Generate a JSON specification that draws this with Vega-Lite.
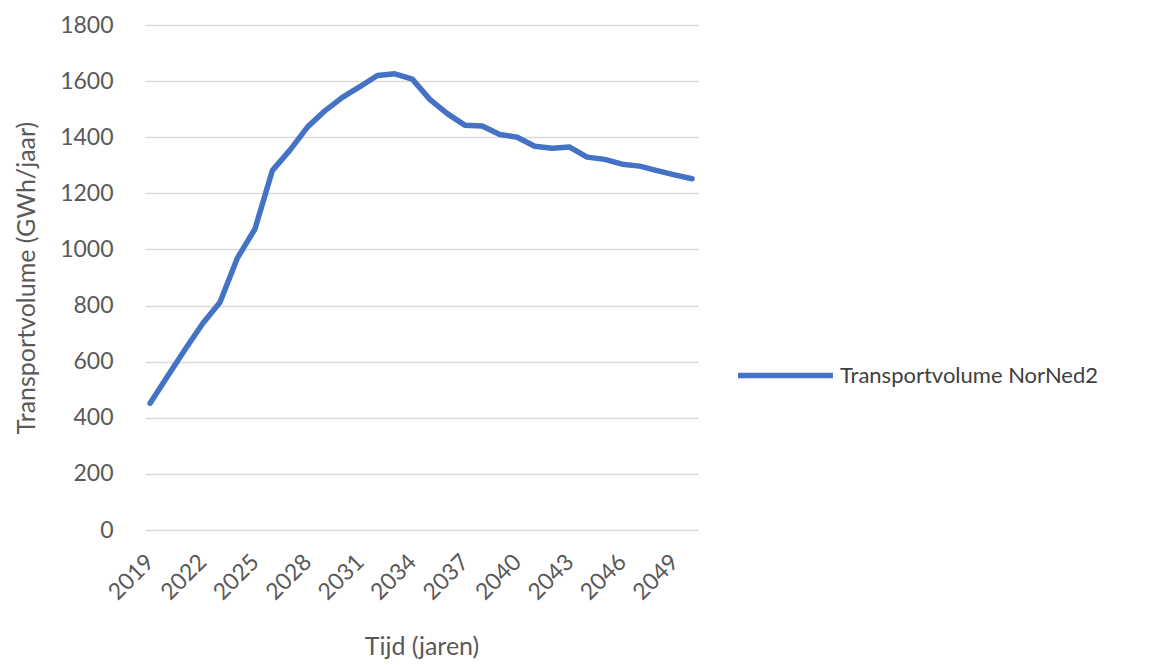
{
  "$schema": "https://vega.github.io/schema/vega-lite/v6.json",
  "width": 553,
  "height": 505,
  "autosize": "none",
  "padding": {"left": 145, "top": 25, "right": 468, "bottom": 135},
  "background": "white",
  "config": {
    "font": "Lato",
    "view": {"stroke": null}
  },
  "data": {
    "values": [
      {"jaar": 2019, "volume": 452, "serie": "Transportvolume NorNed2"},
      {"jaar": 2020, "volume": 548, "serie": "Transportvolume NorNed2"},
      {"jaar": 2021, "volume": 643, "serie": "Transportvolume NorNed2"},
      {"jaar": 2022, "volume": 735, "serie": "Transportvolume NorNed2"},
      {"jaar": 2023, "volume": 812, "serie": "Transportvolume NorNed2"},
      {"jaar": 2024, "volume": 970, "serie": "Transportvolume NorNed2"},
      {"jaar": 2025, "volume": 1073, "serie": "Transportvolume NorNed2"},
      {"jaar": 2026, "volume": 1282, "serie": "Transportvolume NorNed2"},
      {"jaar": 2027, "volume": 1354, "serie": "Transportvolume NorNed2"},
      {"jaar": 2028, "volume": 1436, "serie": "Transportvolume NorNed2"},
      {"jaar": 2029, "volume": 1494, "serie": "Transportvolume NorNed2"},
      {"jaar": 2030, "volume": 1542, "serie": "Transportvolume NorNed2"},
      {"jaar": 2031, "volume": 1580, "serie": "Transportvolume NorNed2"},
      {"jaar": 2032, "volume": 1620, "serie": "Transportvolume NorNed2"},
      {"jaar": 2033, "volume": 1626, "serie": "Transportvolume NorNed2"},
      {"jaar": 2034, "volume": 1607, "serie": "Transportvolume NorNed2"},
      {"jaar": 2035, "volume": 1535, "serie": "Transportvolume NorNed2"},
      {"jaar": 2036, "volume": 1484, "serie": "Transportvolume NorNed2"},
      {"jaar": 2037, "volume": 1443, "serie": "Transportvolume NorNed2"},
      {"jaar": 2038, "volume": 1440, "serie": "Transportvolume NorNed2"},
      {"jaar": 2039, "volume": 1410, "serie": "Transportvolume NorNed2"},
      {"jaar": 2040, "volume": 1400, "serie": "Transportvolume NorNed2"},
      {"jaar": 2041, "volume": 1368, "serie": "Transportvolume NorNed2"},
      {"jaar": 2042, "volume": 1361, "serie": "Transportvolume NorNed2"},
      {"jaar": 2043, "volume": 1365, "serie": "Transportvolume NorNed2"},
      {"jaar": 2044, "volume": 1329, "serie": "Transportvolume NorNed2"},
      {"jaar": 2045, "volume": 1321, "serie": "Transportvolume NorNed2"},
      {"jaar": 2046, "volume": 1304, "serie": "Transportvolume NorNed2"},
      {"jaar": 2047, "volume": 1297, "serie": "Transportvolume NorNed2"},
      {"jaar": 2048, "volume": 1281, "serie": "Transportvolume NorNed2"},
      {"jaar": 2049, "volume": 1266, "serie": "Transportvolume NorNed2"},
      {"jaar": 2050, "volume": 1252, "serie": "Transportvolume NorNed2"}
    ]
  },
  "mark": {"type": "line", "strokeWidth": 5.5, "strokeJoin": "round", "strokeCap": "round"},
  "encoding": {
    "x": {
      "field": "jaar",
      "type": "quantitative",
      "scale": {"domain": [2018.71, 2050.34], "nice": false, "zero": false},
      "axis": {
        "title": "Tijd (jaren)",
        "values": [2019, 2022, 2025, 2028, 2031, 2034, 2037, 2040, 2043, 2046, 2049],
        "format": "d",
        "labelAngle": -45,
        "labelAlign": "right",
        "labelBaseline": "middle",
        "labelFontSize": 23,
        "labelColor": "#595959",
        "labelPadding": 28,
        "labelFlush": false,
        "labelOverlap": false,
        "ticks": false,
        "grid": false,
        "domain": false,
        "titleFontSize": 25,
        "titleFontWeight": "normal",
        "titleColor": "#595959",
        "titlePadding": 30
      }
    },
    "y": {
      "field": "volume",
      "type": "quantitative",
      "scale": {"domain": [0, 1800], "nice": false},
      "axis": {
        "title": "Transportvolume (GWh/jaar)",
        "values": [0, 200, 400, 600, 800, 1000, 1200, 1400, 1600, 1800],
        "format": "d",
        "labelFontSize": 23,
        "labelColor": "#595959",
        "labelPadding": 32,
        "ticks": false,
        "domain": false,
        "grid": true,
        "gridColor": "#d9d9d9",
        "gridWidth": 1.5,
        "titleFontSize": 25,
        "titleFontWeight": "normal",
        "titleColor": "#595959",
        "titlePadding": 20
      }
    },
    "color": {
      "field": "serie",
      "type": "nominal",
      "scale": {"range": ["#4472C4"]},
      "legend": {
        "title": null,
        "orient": "none",
        "legendX": 590,
        "legendY": 300,
        "symbolType": "stroke",
        "symbolSize": 9000,
        "symbolStrokeWidth": 5.5,
        "labelFontSize": 22,
        "labelColor": "#404040",
        "labelLimit": 400,
        "labelOffset": 4
      }
    }
  }
}
